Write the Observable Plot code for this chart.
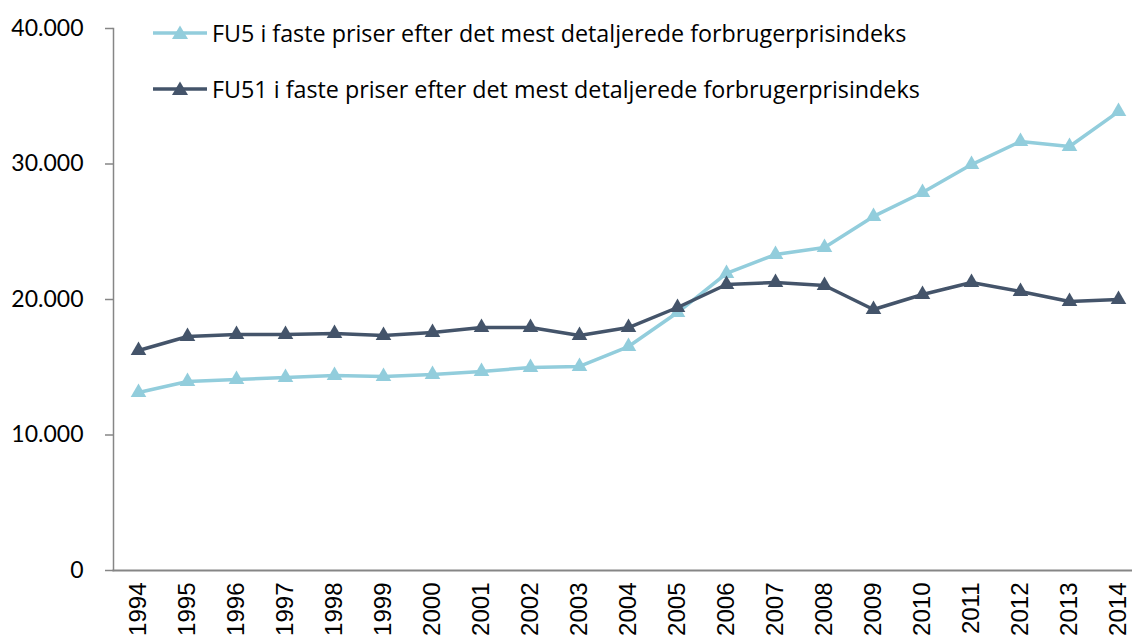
<!DOCTYPE html>
<html>
<head>
<meta charset="utf-8">
<script src="https://cdn.jsdelivr.net/npm/d3@7"></script>
<script src="https://cdn.jsdelivr.net/npm/@observablehq/plot@0.6"></script>
<style>
  html, body { margin: 0; padding: 0; background: #fff; }
  #wrap { position: relative; width: 1132px; height: 637px; overflow: hidden; }
  .leg { position: absolute; left: 153px; display: flex; align-items: center; font-family: "Open Sans", sans-serif; font-size: 23.3px; color: #000; white-space: nowrap; }
  .leg svg { margin-right: 5px; }
</style>
</head>
<body>
<div id="wrap"></div>
<script>
const years = [1994,1995,1996,1997,1998,1999,2000,2001,2002,2003,2004,2005,2006,2007,2008,2009,2010,2011,2012,2013,2014];
const fu5 = [13140,13950,14100,14240,14390,14320,14460,14690,14980,15060,16530,19040,21920,23320,23840,26130,27900,29960,31660,31290,33870];
const fu51 = [16240,17270,17420,17420,17490,17340,17560,17930,17930,17340,17930,19410,21110,21250,21030,19260,20370,21250,20590,19850,20000];
const yTicks = [0,10000,20000,30000,40000];
const seriesNames = ["FU5 i faste priser efter det mest detaljerede forbrugerprisindeks", "FU51 i faste priser efter det mest detaljerede forbrugerprisindeks"];
const colors = ["#92CDDC", "#44546A"];

const d5 = years.map((y, i) => ({year: y, value: fu5[i]}));
const d51 = years.map((y, i) => ({year: y, value: fu51[i]}));
const fmt = d => d3.format(",")(d).replace(/,/g, ".");

const chart = Plot.plot({
  width: 1132, height: 637,
  marginLeft: 113, marginRight: 0, marginTop: 28, marginBottom: 67,
  style: {fontFamily: "Lato, sans-serif", fontSize: "22px", color: "#000", background: "#fff", overflow: "visible"},
  x: {type: "point", domain: years, range: [137, 1118], padding: 0, label: null},
  y: {domain: [0, 40000], label: null},
  marks: [
    Plot.axisY({ticks: yTicks, tickFormat: fmt, tickSize: 8, tickPadding: 22, stroke: "#868686", strokeWidth: 1.5, fontSize: 23, fill: "#000", label: null}),
    Plot.axisX({tickFormat: d => String(d), tickRotate: -90, tickSize: 0, tickPadding: 12, fontSize: 24, fontFamily: "Liberation Sans, Arial, sans-serif", fill: "#000", label: null}),
    Plot.frame({anchor: "left", stroke: "#868686", strokeWidth: 1.5}),
    Plot.frame({anchor: "bottom", stroke: "#868686", strokeWidth: 2}),
    Plot.line(d5, {x: "year", y: "value", stroke: colors[0], strokeWidth: 3.5}),
    Plot.dot(d5, {x: "year", y: "value", symbol: "triangle", r: 5.8, fill: colors[0], stroke: "none"}),
    Plot.line(d51, {x: "year", y: "value", stroke: colors[1], strokeWidth: 3.5}),
    Plot.dot(d51, {x: "year", y: "value", symbol: "triangle", r: 5.8, fill: colors[1], stroke: "none"})
  ]
});
const wrap = document.getElementById("wrap");
wrap.appendChild(chart);

const legTops = [33, 89];
seriesNames.forEach((name, i) => {
  const div = document.createElement("div");
  div.className = "leg";
  div.style.top = (legTops[i] - 15) + "px";
  div.style.height = "30px";
  div.innerHTML = `<svg width="54" height="20"><line x1="0" y1="10" x2="54" y2="10" stroke="${colors[i]}" stroke-width="3.5"/><path d="M27,2.5 L35,16 L19,16 Z" fill="${colors[i]}"/></svg><span>${name}</span>`;
  wrap.appendChild(div);
});
</script>
</body>
</html>
